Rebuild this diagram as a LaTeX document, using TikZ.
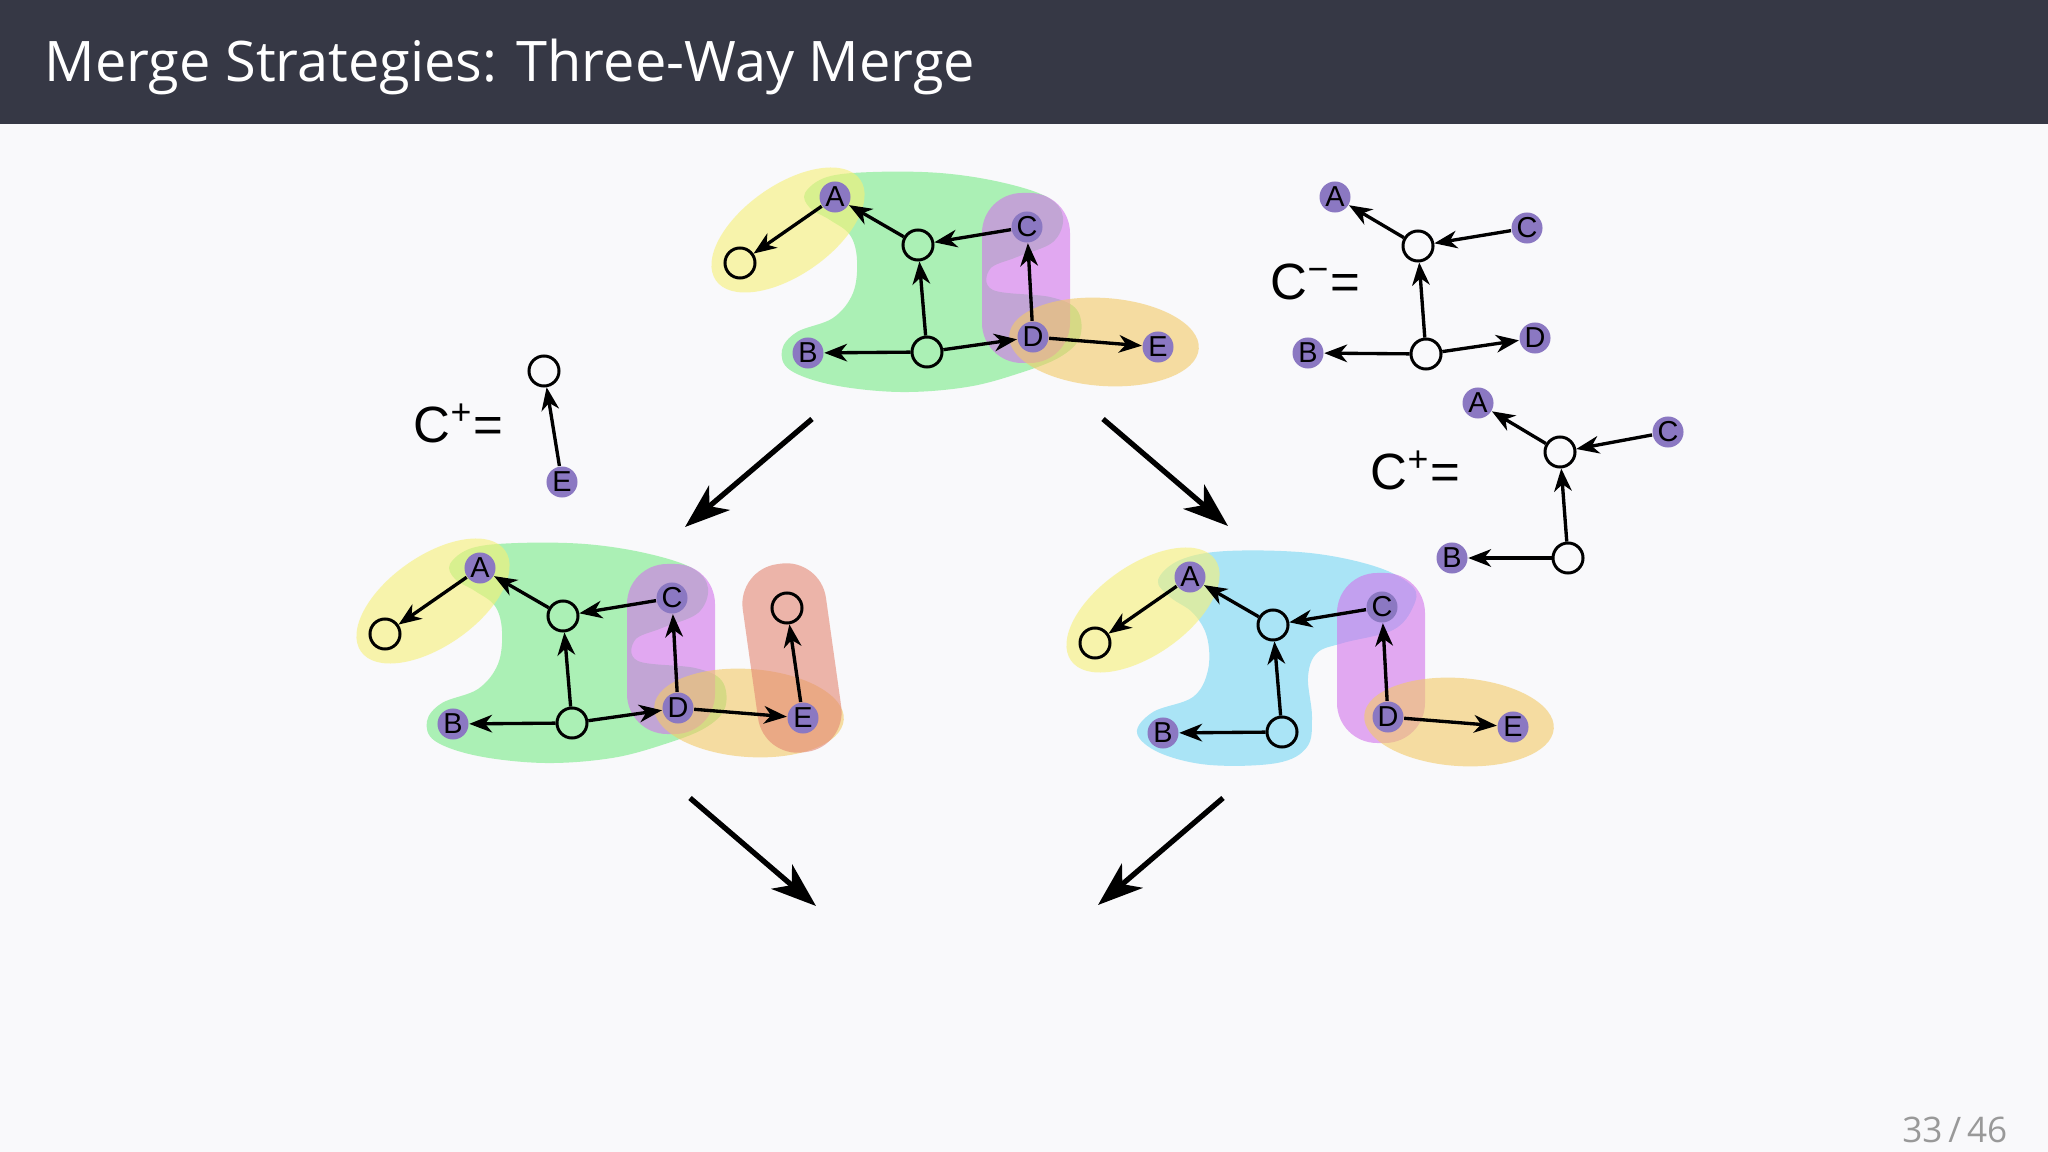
\documentclass[tikz,border=0pt]{standalone}
\usepackage{fontspec}
\setmainfont{Liberation Sans}
\newfontfamily\titlefont{Open Sans}
\usetikzlibrary{arrows.meta}
\definecolor{slidebg}{RGB}{249,249,251}
\definecolor{barbg}{RGB}{54,56,69}
\definecolor{vtxpurple}{RGB}{139,120,194}
\definecolor{hgreen}{RGB}{120,235,135}
\definecolor{hyellow}{RGB}{247,240,118}
\definecolor{hviolet}{RGB}{210,115,235}
\definecolor{horange}{RGB}{243,202,102}
\definecolor{hblue}{RGB}{118,215,243}
\definecolor{hred}{RGB}{228,135,115}
\tikzset{vtx/.style={circle, fill=vtxpurple, minimum size=0.31cm, inner sep=0pt, font=\fontsize{8.2}{9}\selectfont},
  emp/.style={circle, draw, line width=0.85pt, minimum size=0.3cm, inner sep=0pt},
  link/.style={line width=0.95pt, -{Stealth[length=6.5pt,width=5pt,inset=2pt]}},
  bigarrow/.style={line width=1.5pt, -{Stealth[length=0.45cm,width=0.32cm,inset=0.13cm]}},
  hull/.style={fill opacity=0.6},
  eqn/.style={anchor=base west, inner sep=0pt, font=\fontsize{14.5}{16}\selectfont}}

\begin{document}
\begin{tikzpicture}[x=0.01cm,y=-0.01cm]
   \fill[slidebg] (0,0) rectangle (2048,1152);
   \useasboundingbox (0,0) rectangle (2048,1152);
   \fill[barbg] (0,0) rectangle (2048,124);
   \node[anchor=base west, inner sep=0pt, text=white, font=\titlefont\fontsize{15.9}{20}\selectfont] (title) at (44,82) {Merge Strategies: Three-Way Merge};
   \node[anchor=base east, inner sep=0pt, text=black!40, font=\titlefont\fontsize{10}{12}\selectfont] (pageno) at (2008,1142) {33\,/\,46};
   % common ancestor
   \begin{scope}[shift={(835,197)}]
    \fill[hull,hgreen] plot[smooth cycle, tension=0.6] coordinates {(-30,-4) (-8,-20) (38,-25) (105,-24) (165,-15) (212,0) (228,20) (218,45) (182,60) (155,72) (158,93) (215,100) (242,113) (245,140) (225,160) (185,176) (132,190) (65,195) (-2,188) (-45,173) (-53,153) (-38,135) (-2,121) (18,96) (22,63) (15,38) (-5,23) (-25,11)};
    \fill[hull,hyellow,rotate around={35:(-47,33)}] (-47,33) ellipse [x radius=88, y radius=45];
    \fill[hull,hviolet,rounded corners=0.4cm] (147,-4) rectangle (235,166);
    \fill[hull,horange,rotate around={-4:(269,145)}] (269,145) ellipse [x radius=95, y radius=44];
    \node[vtx] (tA) at (0,0) {A};
    \node[emp] (tL) at (-95,66) {};
    \node[emp] (tT) at (83,48) {};
    \node[vtx] (tC) at (192,30) {C};
    \node[vtx] (tD) at (198,140) {D};
    \node[vtx] (tE) at (323,150) {E};
    \node[vtx] (tB) at (-27,156) {B};
    \node[emp] (tM) at (92,155) {};
    \draw[link] (tT) -- (tA); \draw[link] (tA) -- (tL);
    \draw[link] (tC) -- (tT); \draw[link] (tM) -- (tT);
    \draw[link] (tM) -- (tB); \draw[link] (tM) -- (tD);
    \draw[link] (tD) -- (tC); \draw[link] (tD) -- (tE);
   \end{scope}
   % left branch
   \begin{scope}[shift={(480,568)}]
    \fill[hull,hgreen] plot[smooth cycle, tension=0.6] coordinates {(-30,-4) (-8,-20) (38,-25) (105,-24) (165,-15) (212,0) (228,20) (218,45) (182,60) (155,72) (158,93) (215,100) (242,113) (245,140) (225,160) (185,176) (132,190) (65,195) (-2,188) (-45,173) (-53,153) (-38,135) (-2,121) (18,96) (22,63) (15,38) (-5,23) (-25,11)};
    \fill[hull,hyellow,rotate around={35:(-47,33)}] (-47,33) ellipse [x radius=88, y radius=45];
    \fill[hull,hviolet,rounded corners=0.4cm] (147,-4) rectangle (235,166);
    \fill[hull,horange,rotate around={-4:(269,145)}] (269,145) ellipse [x radius=95, y radius=44];
    \fill[hull,hred,rounded corners=0.4cm,rotate around={8:(312,90)}] (270,-5) rectangle (354,185);
    \node[vtx] (lA) at (0,0) {A};
    \node[emp] (lL) at (-95,66) {};
    \node[emp] (lT) at (83,48) {};
    \node[vtx] (lC) at (192,30) {C};
    \node[vtx] (lD) at (198,140) {D};
    \node[vtx] (lE) at (323,150) {E};
    \node[vtx] (lB) at (-27,156) {B};
    \node[emp] (lM) at (92,155) {};
    \node[emp] (lN) at (307,40) {};
    \draw[link] (lT) -- (lA); \draw[link] (lA) -- (lL);
    \draw[link] (lC) -- (lT); \draw[link] (lM) -- (lT);
    \draw[link] (lM) -- (lB); \draw[link] (lM) -- (lD);
    \draw[link] (lD) -- (lC); \draw[link] (lD) -- (lE);
    \draw[link] (lE) -- (lN);
   \end{scope}
   % right branch
   \begin{scope}[shift={(1190,577)}]
    \fill[hull,hblue] plot[smooth cycle, tension=0.6] coordinates {(-32,3) (-10,-17) (37,-26) (120,-24) (187,-10) (223,10) (223,30) (203,53) (153,66) (127,76) (118,100) (122,140) (117,170) (87,186) (20,188) (-30,176) (-53,156) (-37,135) (3,120) (18,93) (17,60) (3,36) (-20,20)};
    \fill[hull,hyellow,rotate around={35:(-47,33)}] (-47,33) ellipse [x radius=88, y radius=45];
    \fill[hull,hviolet,rounded corners=0.4cm] (147,-4) rectangle (235,166);
    \fill[hull,horange,rotate around={-4:(269,145)}] (269,145) ellipse [x radius=95, y radius=44];
    \node[vtx] (rA) at (0,0) {A};
    \node[emp] (rL) at (-95,66) {};
    \node[emp] (rT) at (83,48) {};
    \node[vtx] (rC) at (192,30) {C};
    \node[vtx] (rD) at (198,140) {D};
    \node[vtx] (rE) at (323,150) {E};
    \node[vtx] (rB) at (-27,156) {B};
    \node[emp] (rM) at (92,155) {};
    \draw[link] (rT) -- (rA); \draw[link] (rA) -- (rL);
    \draw[link] (rC) -- (rT); \draw[link] (rM) -- (rT);
    \draw[link] (rM) -- (rB);
    \draw[link] (rD) -- (rC); \draw[link] (rD) -- (rE);
   \end{scope}
   % change sets
   \node[eqn] (cplusl) at (413,443) {C\textsuperscript{+}=};
   \begin{scope}[shift={(239,332)}]
    \node[vtx] (pE) at (323,150) {E};
    \node[emp] (pN) at (305,39) {};
    \draw[link] (pE) -- (pN);
   \end{scope}
   \node[eqn] (cminus) at (1270,300) {C\textsuperscript{−}=};
   \begin{scope}[shift={(1335,197)}]
    \node[vtx] (mA) at (0,0) {A};
    \node[emp] (mT) at (83,49) {};
    \node[vtx] (mC) at (192,31) {C};
    \node[vtx] (mD) at (200,141) {D};
    \node[vtx] (mB) at (-27,156) {B};
    \node[emp] (mM) at (91,157) {};
    \draw[link] (mT) -- (mA); \draw[link] (mC) -- (mT);
    \draw[link] (mM) -- (mT); \draw[link] (mM) -- (mB);
    \draw[link] (mM) -- (mD);
   \end{scope}
   \node[eqn] (cplusr) at (1370,490) {C\textsuperscript{+}=};
   \begin{scope}[shift={(1478,403)}]
    \node[vtx] (qA) at (0,0) {A};
    \node[emp] (qT) at (82,49) {};
    \node[vtx] (qC) at (190,29) {C};
    \node[vtx] (qB) at (-26,155) {B};
    \node[emp] (qM) at (90,155) {};
    \draw[link] (qT) -- (qA); \draw[link] (qC) -- (qT);
    \draw[link] (qM) -- (qT); \draw[link] (qM) -- (qB);
   \end{scope}
   % merge arrows
   \coordinate (s1) at (812,419); \coordinate (e1) at (685,527);
   \coordinate (s2) at (1103,419); \coordinate (e2) at (1228,526);
   \coordinate (s3) at (690,798); \coordinate (e3) at (816,906);
   \coordinate (s4) at (1223,798); \coordinate (e4) at (1098,905);
   \draw[bigarrow] (s1) -- (e1); \draw[bigarrow] (s2) -- (e2);
   \draw[bigarrow] (s3) -- (e3); \draw[bigarrow] (s4) -- (e4);
\end{tikzpicture}
\end{document}
